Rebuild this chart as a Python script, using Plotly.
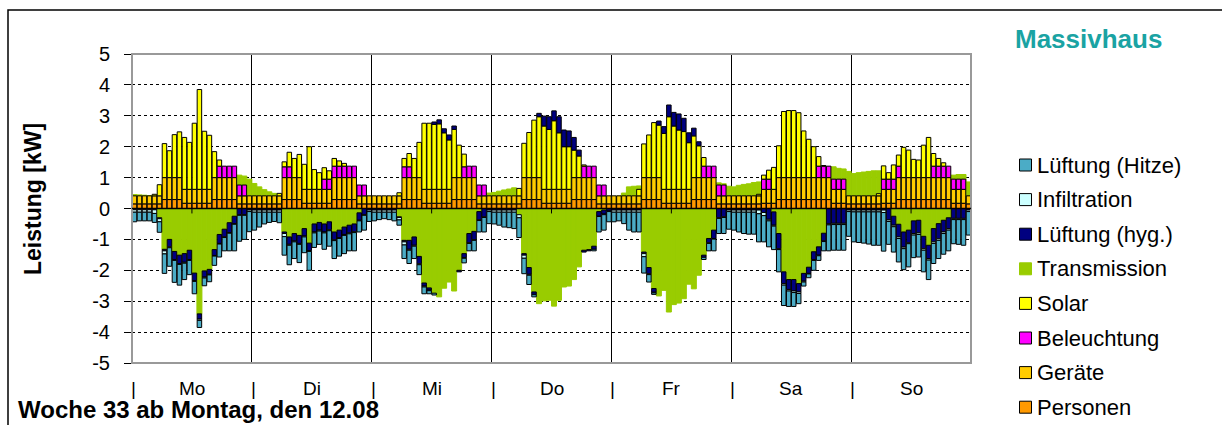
import plotly.graph_objects as go

FONT = "Liberation Sans, Arial, sans-serif"

tage = ["Mo", "Di", "Mi", "Do", "Fr", "Sa", "So"]
y_ticks = [5, 4, 3, 2, 1, 0, -1, -2, -3, -4, -5]

# Internal gains: daily profiles for weekdays (Mo-Fr) and weekend (Sa, So), kW
personen_werktag = [0.15, 0.15, 0.15, 0.15, 0.15, 0.15, 0.29, 0.29, 0.29, 0.29, 0.17, 0.17,
                    0.17, 0.17, 0.17, 0.17, 0.29, 0.29, 0.29, 0.29, 0.29, 0.15, 0.15, 0.15]
personen_wochenende = [0.15, 0.15, 0.15, 0.15, 0.15, 0.15, 0.17, 0.17, 0.17, 0.29, 0.29, 0.29,
                       0.29, 0.29, 0.29, 0.29, 0.29, 0.29, 0.29, 0.29, 0.17, 0.17, 0.17, 0.15]
geraete_werktag = [0.26, 0.26, 0.26, 0.26, 0.26, 0.26, 0.71, 0.71, 0.71, 0.71, 0.45, 0.45,
                   0.45, 0.45, 0.45, 0.45, 0.71, 0.71, 0.71, 0.71, 0.71, 0.26, 0.26, 0.26]
geraete_wochenende = [0.26, 0.26, 0.26, 0.26, 0.26, 0.26, 0.45, 0.45, 0.45, 0.71, 0.71, 0.71,
                      0.71, 0.71, 0.71, 0.71, 0.71, 0.71, 0.71, 0.71, 0.45, 0.45, 0.45, 0.26]

beleuchtung_tage = [
    [0, 0, 0, 0, 0, 0, 0, 0, 0, 0, 0, 0, 0, 0, 0, 0, 0, 0.37, 0.37, 0.37, 0.37, 0.35, 0.35, 0],
    [0, 0, 0, 0, 0, 0, 0.35, 0.35, 0, 0, 0, 0, 0, 0, 0.33, 0.33, 0.37, 0.37, 0.37, 0.37, 0.37, 0.35, 0.35, 0],
    [0, 0, 0, 0, 0, 0, 0.35, 0.35, 0, 0, 0, 0, 0, 0, 0, 0, 0, 0, 0.35, 0.37, 0.37, 0.35, 0.35, 0],
    [0, 0, 0, 0, 0, 0, 0, 0, 0, 0, 0, 0, 0, 0, 0, 0, 0, 0, 0.37, 0.37, 0.37, 0.35, 0.35, 0],
    [0, 0, 0, 0, 0, 0, 0, 0, 0, 0, 0, 0, 0, 0, 0, 0, 0, 0, 0.37, 0.37, 0.37, 0.35, 0.35, 0],
    [0, 0, 0, 0, 0, 0, 0.33, 0.33, 0, 0, 0, 0, 0, 0, 0, 0, 0, 0.37, 0.37, 0.37, 0.33, 0.33, 0.33, 0],
    [0, 0, 0, 0, 0, 0, 0.33, 0.33, 0.33, 0.37, 0, 0, 0, 0, 0, 0, 0.37, 0.37, 0.37, 0.37, 0.33, 0.33, 0.33, 0],
]

solar_tage = [
    [0, 0, 0, 0, 0.05, 0.36, 1.10, 0.87, 1.39, 1.48, 1.68, 1.52, 2.14, 3.23, 1.88, 1.75, 0.84, 0.20, 0, 0, 0, 0, 0, 0],
    [0, 0, 0, 0, 0, 0.08, 0.16, 0.47, 0.62, 0.75, 0.81, 1.38, 0.64, 0.54, 0.37, 0.27, 0.25, 0.17, 0.09, 0, 0, 0, 0, 0],
    [0, 0, 0, 0, 0, 0.10, 0.27, 0.43, 0.62, 1.14, 2.14, 2.14, 2.10, 2.12, 1.83, 1.60, 1.56, 1.05, 0.41, 0, 0, 0, 0, 0],
    [0, 0, 0, 0, 0, 0.24, 1.11, 1.46, 1.86, 1.97, 2.05, 1.94, 2.22, 1.83, 1.38, 1.38, 0.89, 0.70, 0.04, 0, 0, 0, 0, 0],
    [0, 0, 0, 0, 0, 0.21, 1.09, 1.38, 1.78, 1.70, 1.81, 2.35, 2.05, 1.92, 1.87, 1.51, 1.35, 1.03, 0.28, 0, 0, 0, 0, 0],
    [0, 0, 0, 0, 0, 0.05, 0.13, 0.29, 0.71, 1.03, 2.14, 2.17, 2.17, 2.10, 1.51, 1.24, 1.00, 0.31, 0.02, 0, 0, 0, 0, 0],
    [0, 0, 0, 0, 0, 0.07, 0.43, 0.21, 0.46, 0.36, 0.98, 0.89, 0.59, 0.57, 1.05, 1.30, 0.41, 0.25, 0.11, 0, 0, 0, 0, 0],
]

transmission_tage = [
    [0.45, 0.44, 0.43, 0.42, 0.10, -0.30, -1.32, -1.00, -1.39, -1.51, -1.46, -1.35,
     -2.09, -3.41, -2.02, -1.97, -1.33, -0.84, -0.67, -0.46, -0.25, 1.08, 1.05, 0.95],
    [0.81, 0.70, 0.61, 0.54, 0.49, 0.40, -0.76, -0.92, -0.81, -0.87, -0.65, -1.12,
     -0.50, -0.45, -0.50, -0.43, -0.76, -0.70, -0.60, -0.54, -0.50, -0.14, 0.10, 0.25],
    [0.30, 0.30, 0.30, 0.30, 0.30, -0.27, -1.03, -1.03, -0.92, -1.55, -2.41, -2.57,
     -2.74, -2.86, -2.58, -2.38, -2.67, -2.00, -1.46, -0.81, -0.74, -0.10, 0.30, 0.50],
    [0.52, 0.56, 0.60, 0.63, 0.67, -0.20, -1.46, -1.91, -2.70, -3.08, -2.99, -2.97,
     -3.16, -2.97, -2.54, -2.51, -2.30, -1.89, -1.35, -1.33, -1.22, -0.10, -0.05, 0.30],
    [0.35, 0.40, 0.50, 0.70, 0.72, 0.73, -1.41, -1.91, -2.59, -2.83, -2.65, -3.35,
     -3.11, -3.06, -2.92, -2.45, -2.60, -2.16, -1.51, -0.97, -0.70, 0.83, 0.80, 0.72],
    [0.70, 0.75, 0.78, 0.80, 0.84, 0.86, 0.70, 0.40, -0.11, -0.81, -2.05, -2.30,
     -2.30, -2.43, -2.10, -1.90, -1.40, -1.24, -0.80, 1.35, 1.35, 1.30, 1.28, 1.20],
    [1.13, 1.16, 1.18, 1.20, 1.22, 1.22, 1.00, 0.30, -0.25, -0.51, -0.76, -0.70,
     -0.40, -0.38, -0.90, -1.19, -0.65, -0.49, -0.38, -0.30, 1.08, 1.10, 1.10, 0.86],
]

lueftung_hyg_tage = [
    [-0.04, -0.04, -0.04, -0.04, -0.04, -0.03, -0.05, -0.24, -0.26, -0.27, -0.28, -0.30,
     -0.24, -0.17, -0.20, -0.16, -0.19, -0.29, -0.25, -0.32, -0.24, -0.20, -0.20, -0.05],
    [-0.05, -0.05, -0.05, -0.05, -0.05, -0.05, -0.05, -0.24, -0.24, -0.26, -0.24, -0.24,
     -0.26, -0.25, -0.26, -0.26, -0.25, -0.24, -0.24, -0.25, -0.25, -0.24, -0.20, -0.05],
    [-0.05, -0.05, -0.05, -0.05, -0.05, -0.02, -0.05, -0.29, -0.27, -0.24, -0.10, -0.07,
     0.08, 0.13, 0.13, 0.16, 0.11, -0.05, -0.13, -0.30, -0.27, -0.27, -0.27, -0.05],
    [-0.05, -0.05, -0.05, -0.05, -0.05, 0, -0.05, -0.22, -0.08, 0.11, 0.32, 0.41,
     0.32, 0.52, 0.54, 0.51, 0.41, 0.19, -0.06, -0.04, -0.10, -0.15, -0.13, -0.08],
    [-0.05, -0.05, -0.05, -0.05, -0.05, -0.05, -0.05, -0.20, -0.12, 0.13, 0.22, 0.38,
     0.44, 0.52, 0.43, 0.32, 0.25, 0.13, -0.07, -0.14, -0.27, -0.30, -0.27, -0.05],
    [-0.05, -0.05, -0.05, -0.05, -0.05, -0.05, -0.13, -0.35, -0.43, -0.49, -0.38, -0.32,
     -0.37, -0.27, -0.25, -0.20, -0.25, -0.27, -0.25, -0.50, -0.48, -0.48, -0.48, -0.05],
    [-0.05, -0.05, -0.05, -0.05, -0.05, -0.05, -0.05, -0.37, -0.29, -0.41, -0.49, -0.41,
     -0.41, -0.41, -0.40, -0.43, -0.43, -0.49, -0.38, -0.35, -0.32, -0.32, -0.32, -0.05],
]

infiltration_tage = [
    [-0.08, -0.08, -0.08, -0.08, -0.12, -0.10, -0.10, -0.03, -0.03, -0.03, -0.03, -0.03,
     -0.03, -0.04, -0.03, -0.02, -0.02, -0.02, -0.02, -0.02, -0.02, -0.02, -0.02, -0.05],
    [-0.07, -0.07, -0.07, -0.07, -0.07, -0.07, -0.10, -0.03, -0.03, -0.03, -0.03, -0.03,
     -0.03, -0.03, -0.03, -0.03, -0.03, -0.03, -0.03, -0.03, -0.03, -0.02, -0.02, -0.05],
    [-0.07, -0.07, -0.07, -0.07, -0.07, -0.08, -0.10, -0.03, -0.03, -0.03, -0.03, -0.02,
     0, 0, 0, 0, 0, 0, -0.02, -0.02, -0.02, -0.02, -0.02, -0.05],
    [-0.07, -0.07, -0.07, -0.07, -0.07, -0.10, -0.10, -0.03, -0.01, 0, 0, 0,
     0, 0, 0, 0, 0, 0, 0, 0, 0, -0.01, -0.02, -0.02],
    [-0.07, -0.07, -0.07, -0.07, -0.07, -0.07, -0.10, -0.03, -0.02, 0, 0, 0,
     0, 0, 0, 0, 0, 0, 0, -0.02, -0.02, -0.02, -0.02, -0.05],
    [-0.07, -0.07, -0.07, -0.07, -0.07, -0.12, -0.10, -0.05, -0.03, -0.03, -0.05, -0.05,
     -0.05, -0.05, -0.03, -0.02, -0.03, -0.02, -0.02, -0.03, -0.04, -0.04, -0.04, -0.05],
    [-0.06, -0.06, -0.06, -0.06, -0.06, -0.06, -0.08, -0.05, -0.05, -0.05, -0.05, -0.03,
     -0.05, -0.05, -0.05, -0.05, -0.05, -0.05, -0.05, -0.05, -0.04, -0.04, -0.04, -0.05],
]

lueftung_hitze_tage = [
    [-0.31, -0.28, -0.28, -0.28, -0.29, -0.34, -0.63, -0.60, -0.71, -0.67, -0.53, -0.46,
     -0.40, -0.23, -0.25, -0.22, -0.30, -0.42, -0.43, -0.57, -0.86, -0.84, -0.78, -0.65],
    [-0.58, -0.48, -0.38, -0.33, -0.30, -0.34, -0.60, -0.63, -0.54, -0.59, -0.51, -0.61,
     -0.47, -0.43, -0.53, -0.50, -0.58, -0.57, -0.59, -0.55, -0.59, -0.36, -0.48, -0.32],
    [-0.28, -0.24, -0.21, -0.24, -0.28, -0.17, -0.44, -0.43, -0.40, -0.32, -0.22, -0.10,
     -0.06, 0, 0, 0, 0, 0, -0.15, -0.24, -0.34, -0.37, -0.47, -0.39],
    [-0.38, -0.42, -0.48, -0.50, -0.53, -0.64, -0.50, -0.30, -0.07, 0, 0, 0,
     0, 0, 0, 0, 0, 0, 0, 0, -0.05, -0.50, -0.50, -0.33],
    [-0.31, -0.28, -0.37, -0.58, -0.64, -0.64, -0.53, -0.24, -0.05, 0, 0, 0,
     0, 0, 0, 0, 0, 0, -0.07, -0.24, -0.38, -0.49, -0.52, -0.57],
    [-0.58, -0.64, -0.69, -0.71, -0.71, -0.91, -0.85, -0.84, -0.76, -0.72, -0.66, -0.50,
     -0.45, -0.33, -0.13, -0.12, -0.32, -0.15, -0.30, -0.84, -0.83, -0.83, -0.83, -0.80],
    [-0.97, -0.99, -1.01, -1.04, -1.08, -1.08, -1.25, -0.74, -0.82, -0.76, -0.68, -0.75,
     -0.73, -0.73, -0.70, -0.63, -0.65, -0.59, -0.67, -0.67, -0.78, -0.80, -0.83, -0.76],
]


def woche(tageswerte):
    return [v for tag in tageswerte for v in tag]


personen = woche([personen_werktag] * 5 + [personen_wochenende] * 2)
geraete = woche([geraete_werktag] * 5 + [geraete_wochenende] * 2)
beleuchtung = woche(beleuchtung_tage)
solar = woche(solar_tage)
transmission = woche(transmission_tage)
lueftung_hyg = woche(lueftung_hyg_tage)
infiltration = woche(infiltration_tage)
lueftung_hitze = woche(lueftung_hitze_tage)

stunden = list(range(len(personen)))


def ohne_null(werte):
    return [v if v != 0 else None for v in werte]


GRUEN = "#99CC00"

fig = go.Figure()

# Transmission as a continuous green band behind the stacked bars
fig.add_trace(go.Bar(
    x=stunden, y=transmission, width=1.0, xaxis="x", yaxis="y",
    marker=dict(color=GRUEN, line=dict(color=GRUEN, width=1)),
    showlegend=False, hoverinfo="skip"))

# Stacked hourly bars; transmission is stacked invisibly so that the
# ventilation losses start below it
stapel = [
    ("Personen", personen, "#FF9900", 1),
    ("Geräte", geraete, "#FFCC00", 1),
    ("Beleuchtung", beleuchtung, "#FF00FF", 1),
    ("Solar", solar, "#FFFF00", 1),
    ("Transmission", transmission, "rgba(0,0,0,0)", 0),
    ("Lüftung (hyg.)", lueftung_hyg, "#000080", 1),
    ("Infiltration", infiltration, "#CCFFFF", 1),
    ("Lüftung (Hitze)", lueftung_hitze, "#4BACC6", 1),
]
for name, werte, farbe, rand in stapel:
    fig.add_trace(go.Bar(
        x=stunden, y=ohne_null(werte), name=name, xaxis="x2", yaxis="y",
        marker=dict(color=farbe, line=dict(color="black", width=rand)),
        showlegend=False))

L, T, W, H = 132, 54, 839, 309


def px(xp):
    return (xp - L) / W


def py(yp):
    return (T + H - yp) / H


day_bounds = [24 * d - 0.5 for d in range(1, 7)]

fig.update_layout(
    width=1222, height=425,
    margin=dict(l=L, r=1222 - L - W, t=T, b=425 - T - H),
    paper_bgcolor="white", plot_bgcolor="white",
    barmode="relative", bargap=0.1,
    font=dict(family=FONT, color="black"),
    xaxis=dict(range=[-0.5, 167.5], tickvals=day_bounds, showticklabels=False,
               showgrid=True, gridcolor="black", gridwidth=1, ticks="",
               zeroline=False, showline=False),
    xaxis2=dict(range=[-0.5, 167.5], overlaying="x", visible=False),
    yaxis=dict(range=[-5, 5], tickvals=y_ticks, ticktext=[str(v) for v in y_ticks],
               showgrid=True, gridcolor="black", gridwidth=1, griddash="dot",
               zeroline=False, ticks="outside", ticklen=7, tickcolor="black",
               showline=True, linecolor="black", linewidth=1,
               tickfont=dict(size=20, family=FONT), ticklabelstandoff=10),
)

shapes = []
# plot frame
shapes.append(dict(type="rect", xref="paper", yref="paper", x0=0, x1=1, y0=0, y1=1,
                   line=dict(color="#999999", width=2), layer="above"))
# zero axis with day-centre ticks
shapes.append(dict(type="line", xref="paper", yref="y", x0=0, x1=1, y0=0, y1=0,
                   line=dict(color="black", width=1.5), layer="above"))
for d in range(7):
    xc = 24 * d + 11.5
    shapes.append(dict(type="line", xref="x", yref="y", x0=xc, x1=xc, y0=0, y1=-0.16,
                       line=dict(color="black", width=1), layer="above"))
# outer chart border
shapes.append(dict(type="rect", xref="paper", yref="paper",
                   x0=px(8), x1=px(1240), y0=py(440), y1=py(10),
                   line=dict(color="black", width=1.5), layer="above"))

annotations = []
# day labels under the plot
for d, tag in enumerate(tage):
    annotations.append(dict(text="|", xref="x", yref="paper", x=24 * d - 0.5, xshift=1.5,
                            y=py(388), xanchor="center", yanchor="middle", borderpad=0,
                            showarrow=False, font=dict(size=19)))
    annotations.append(dict(text=tag, xref="x", yref="paper", x=24 * d + 11.5,
                            y=py(388), xanchor="center", yanchor="middle", borderpad=0,
                            showarrow=False, font=dict(size=19)))

annotations.append(dict(text="<b>Leistung [kW]</b>", xref="paper", yref="paper",
                        x=px(33), y=py(199), textangle=-90, xanchor="center",
                        yanchor="middle", showarrow=False, font=dict(size=23)))
annotations.append(dict(text="<b>Woche 33 ab Montag, den 12.08</b>", xref="paper",
                        yref="paper", x=px(17), y=py(424), xanchor="left",
                        yanchor="bottom", borderpad=0, showarrow=False,
                        font=dict(size=24)))
annotations.append(dict(text="<b>Massivhaus</b>", xref="paper", yref="paper",
                        x=px(1088), y=py(39), xanchor="center", yanchor="middle",
                        showarrow=False, font=dict(size=26, color="#1AA3A3")))

# legend, top entry is the last stacked series
legende = [
    ("Lüftung (Hitze)", "#4BACC6", 1),
    ("Infiltration", "#CCFFFF", 1),
    ("Lüftung (hyg.)", "#000080", 1),
    ("Transmission", GRUEN, 0),
    ("Solar", "#FFFF00", 1),
    ("Beleuchtung", "#FF00FF", 1),
    ("Geräte", "#FFCC00", 1),
    ("Personen", "#FF9900", 1),
]
for i, (name, farbe, rand) in enumerate(legende):
    yc = 165 + i * 34.6
    shapes.append(dict(type="rect", xref="paper", yref="paper",
                       x0=px(1019.5), x1=px(1031.5), y0=py(yc + 6), y1=py(yc - 6),
                       fillcolor=farbe, line=dict(color="black" if rand else farbe, width=1)))
    annotations.append(dict(text=name, xref="paper", yref="paper", x=px(1035),
                            y=py(yc), xanchor="left", yanchor="middle",
                            showarrow=False, font=dict(size=22)))

fig.update_layout(shapes=shapes, annotations=annotations)

fig.write_html("out.html")
